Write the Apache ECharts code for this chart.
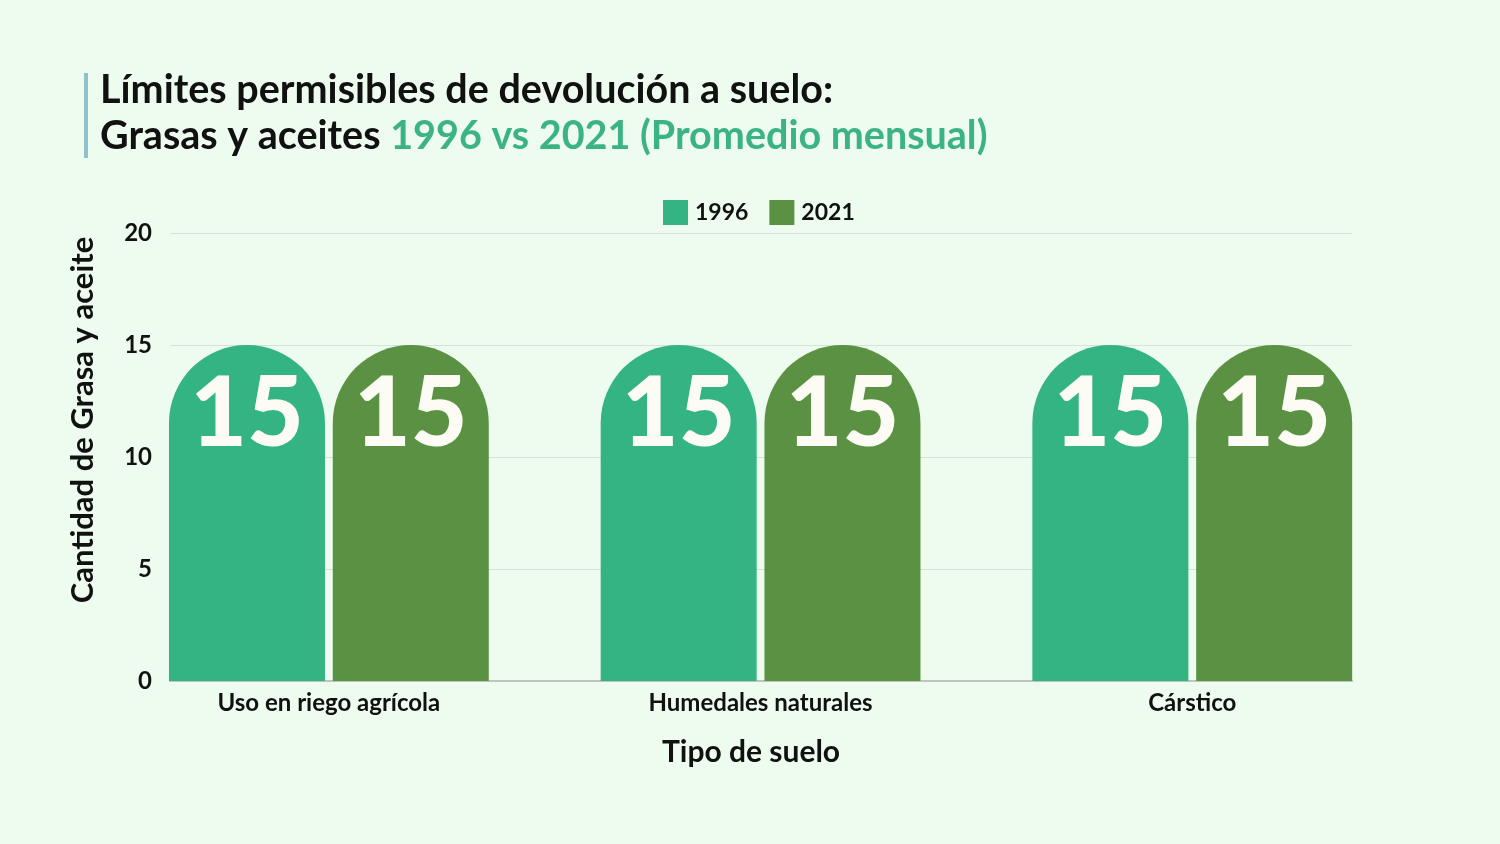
<!DOCTYPE html>
<html>
<head>
<meta charset="utf-8">
<script src="https://cdn.jsdelivr.net/npm/echarts@6/dist/echarts.min.js"></script>
<style>
  html, body { margin: 0; padding: 0; background: #eefcef; }
  #chart { width: 1500px; height: 844px; }
</style>
</head>
<body>
<div id="chart"></div>
<script>
// tipos de suelo y limites (mg/L, promedio mensual)
var categorias = ["Uso en riego agrícola", "Humedales naturales", "Cárstico"];
var valores1996 = [15, 15, 15];
var valores2021 = [15, 15, 15];
var ticksY = [0, 5, 10, 15, 20];

var FONT = "Lato";
var VERDE_1996 = "#34b383";
var VERDE_2021 = "#5a9142";

function puntos(vals) {
    var out = [];
    for (var i = 0; i < vals.length; i++) {
        out.push([i, vals[i]]);
    }
    return out;
}

var etiqueta = {
    show: true,
    position: "insideTop",
    distance: 20,
    color: "#fdfcf4",
    fontFamily: FONT,
    fontWeight: 900,
    fontSize: 98,
    formatter: function (p) { return p.value[1]; }
};

var chart = echarts.init(document.getElementById("chart"));
var option = {
    backgroundColor: "#eefcef",
    textStyle: { fontFamily: FONT },
    title: {
        left: 95,
        top: 62,
        text: "{a|Límites permisibles de devolución a suelo:}\n{a|Grasas y aceites }{g|1996 vs 2021 (Promedio mensual)}",
        textStyle: {
            rich: {
                a: { fontFamily: FONT, fontWeight: "bold", fontSize: 39.5, color: "#111", lineHeight: 46 },
                g: { fontFamily: FONT, fontWeight: "bold", fontSize: 39.5, color: "#3cb382", lineHeight: 46 }
            }
        }
    },
    graphic: [{
        type: "rect",
        left: 84,
        top: 73,
        shape: { width: 4, height: 85 },
        style: { fill: "#8fc0cc" }
    }],
    legend: {
        left: 658,
        top: 195,
        itemWidth: 25,
        itemHeight: 25,
        itemGap: 21,
        icon: "rect",
        textStyle: { fontFamily: FONT, fontWeight: "bold", fontSize: 23, color: "#111", padding: [0, 0, 0, 2] },
        data: ["1996", "2021"]
    },
    grid: { left: 170, right: 148, top: 233, bottom: 163, containLabel: false },
    xAxis: {
        type: "value",
        min: -0.368,
        max: 2.37,
        name: "Tipo de suelo",
        nameLocation: "middle",
        nameGap: 56,
        nameTextStyle: { fontFamily: FONT, fontWeight: "bold", fontSize: 30, color: "#111", padding: [0, 20, 0, 0] },
        axisLine: { show: true, lineStyle: { color: "#bfc4bf", width: 2 } },
        axisTick: { show: false },
        splitLine: { show: false },
        axisLabel: {
            customValues: [0, 1, 2],
            margin: 10,
            fontFamily: FONT,
            fontWeight: "bold",
            fontSize: 24,
            color: "#111",
            formatter: function (v) { return categorias[Math.round(v)]; }
        }
    },
    yAxis: {
        type: "value",
        min: ticksY[0],
        max: ticksY[ticksY.length - 1],
        interval: 5,
        name: "Cantidad de Grasa y aceite",
        nameLocation: "middle",
        nameGap: 72,
        nameTextStyle: { fontFamily: FONT, fontWeight: "bold", fontSize: 31, color: "#111", padding: [0, 0, 0, 74] },
        axisLine: { show: false },
        axisTick: { show: false },
        splitLine: { lineStyle: { color: "#d6e2d8", width: 1 } },
        axisLabel: { margin: 18, fontFamily: FONT, fontWeight: "bold", fontSize: 24, color: "#111" }
    },
    series: [
        {
            name: "1996",
            type: "bar",
            data: puntos(valores1996),
            barWidth: 156,
            barGap: "5%",
            itemStyle: { color: VERDE_1996, borderRadius: [78, 78, 0, 0] },
            label: etiqueta
        },
        {
            name: "2021",
            type: "bar",
            data: puntos(valores2021),
            barWidth: 156,
            barGap: "5%",
            itemStyle: { color: VERDE_2021, borderRadius: [78, 78, 0, 0] },
            label: etiqueta
        }
    ]
};
chart.setOption(option);
</script>
</body>
</html>
